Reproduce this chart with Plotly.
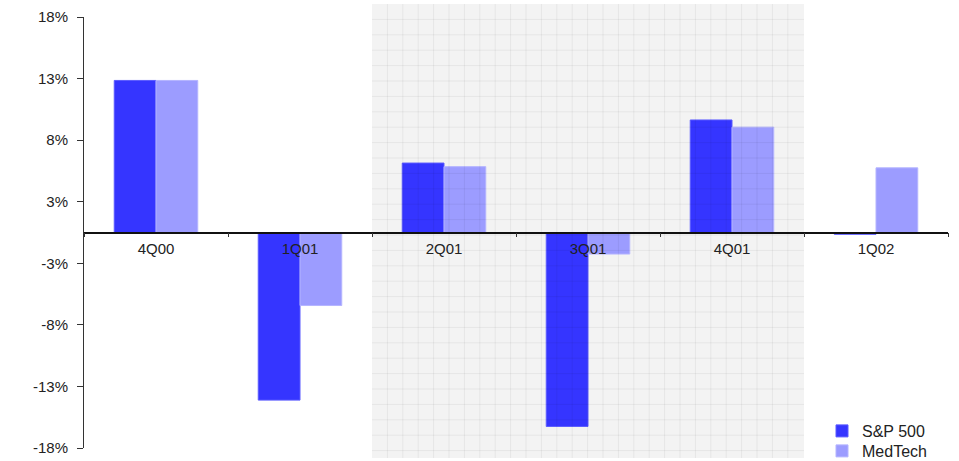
import plotly.graph_objects as go
import numpy as np

quarters = ["4Q00", "1Q01", "2Q01", "3Q01", "4Q01", "1Q02"]
sp500 = [12.7, -14.0, 5.8, -16.2, 9.4, -0.15]
medtech = [12.7, -6.1, 5.5, -1.8, 8.8, 5.4]

y_ticks = list(np.linspace(-18, 18, 8))
y_labels = ["-18%", "-13%", "-8%", "-3%", "3%", "8%", "13%", "18%"]

W, H = 959, 461
ml, mr, mt, mb = 84, 11, 17, 13
pw, ph = W - ml - mr, H - mt - mb

def px_x(p):
    return (p - ml) / pw

def px_y(p):
    return (H - mb - p) / ph

fig = go.Figure()
fig.add_trace(go.Bar(x=quarters, y=sp500, name="S&P 500", legend="legend",
                     marker=dict(color="#3535ff", line=dict(color="#5a5aff", width=1))))
fig.add_trace(go.Bar(x=quarters, y=medtech, name="MedTech", legend="legend2",
                     marker=dict(color="#9c9cff", line=dict(color="#b4b4ff", width=1))))

# shaded band behind the middle three quarters
top_px, bot_px = 4, 458
fig.add_shape(type="rect", xref="x", yref="paper", x0=1.5, x1=4.5,
              y0=px_y(bot_px), y1=px_y(top_px), fillcolor="#f3f3f3",
              line=dict(width=0), layer="below")

# fine grid over the band
step = 15.4
x_left = ml + 2 * pw / 6
x_right = ml + 5 * pw / 6
path = []
xv = x_left + step
while xv < x_right - 2:
    path.append(f"M{px_x(xv)},{px_y(bot_px)}L{px_x(xv)},{px_y(top_px)}")
    xv += step
yv = top_px + step
while yv < bot_px - 2:
    path.append(f"M{px_x(x_left)},{px_y(yv)}L{px_x(x_right)},{px_y(yv)}")
    yv += step
fig.add_shape(type="path", xref="paper", yref="paper", path="".join(path),
              line=dict(color="rgba(0,0,0,0.055)", width=1), layer="above")

legend_style = dict(xanchor="left", yanchor="middle", bgcolor="rgba(0,0,0,0)",
                    font=dict(size=16, color="#222"), itemwidth=30,
                    borderwidth=0)

fig.update_layout(
    width=W, height=H,
    margin=dict(l=ml, r=mr, t=mt, b=mb, autoexpand=False),
    paper_bgcolor="white", plot_bgcolor="white",
    barmode="group", bargap=0.42, bargroupgap=0,
    font=dict(family="Liberation Sans, Arial, sans-serif", color="#222"),
    showlegend=True,
    legend=dict(x=px_x(822), y=px_y(431), **legend_style),
    legend2=dict(x=px_x(822), y=px_y(451), **legend_style),
)
fig.update_xaxes(
    type="category", range=[-0.5, 5.5],
    anchor="free", position=0.5,
    showline=True, linecolor="#111", linewidth=1.5,
    ticks="outside", tickson="boundaries", ticklen=4, tickcolor="#333",
    showgrid=False, zeroline=False, ticklabelstandoff=3,
    tickfont=dict(size=15, color="#222"),
)
fig.update_yaxes(
    range=[-18, 18], tickvals=y_ticks, ticktext=y_labels,
    showline=True, linecolor="#333", linewidth=1,
    ticks="outside", ticklen=6, tickcolor="#333",
    showgrid=False, zeroline=False, ticklabelstandoff=6,
    tickfont=dict(size=15, color="#222"),
)

fig.write_html("out.html")
